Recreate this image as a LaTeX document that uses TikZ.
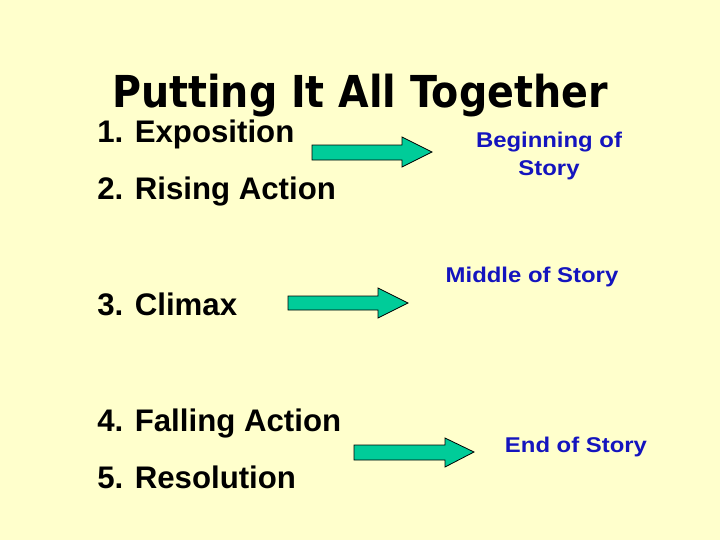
\documentclass[tikz,border=0pt]{standalone}
\usepackage{fontspec}
\setmainfont{Liberation Sans}
\newfontfamily\titlefont[FakeStretch=0.9]{DejaVu Sans}
\newfontfamily\partfont[FakeStretch=1.12]{Liberation Sans}
\definecolor{bgyellow}{RGB}{255,255,204}
\definecolor{arrowgreen}{RGB}{0,204,153}
\definecolor{storyblue}{RGB}{20,20,190}
\tikzset{
  px/.style={x=0.75pt,y=-0.75pt},
  blockarrow/.style={fill=arrowgreen,draw=black,line width=0.6pt,line join=miter},
  item/.style={anchor=base west,inner sep=0pt,font=\bfseries\fontsize{23.4pt}{26pt}\selectfont},
  part/.style={anchor=base,inner sep=0pt,text=storyblue,align=center,font=\partfont\bfseries\fontsize{16pt}{21pt}\selectfont},
}
\begin{document}
\begin{tikzpicture}[px]
\fill[bgyellow] (0,0) rectangle (720,540);
\useasboundingbox (0,0) rectangle (720,540);
\node[inner sep=0pt,anchor=base] (title) at (360,107) {\titlefont\bfseries\fontsize{33pt}{36pt}\selectfont Putting It All Together};
\node[item] (i1) at (97,142) {1. Exposition};
\node[item] (i2) at (97,199) {2. Rising Action};
\node[item] (i3) at (97,315) {3. Climax};
\node[item] (i4) at (97,431) {4. Falling Action};
\node[item] (i5) at (97,488) {5. Resolution};
\node[part] (p1) at (549,175) {Beginning of\\Story};
\node[part] (p2) at (532,282) {Middle of Story};
\node[part] (p3) at (576,452) {End of Story};
\filldraw[blockarrow] (312,145) -- (402,145) -- (402,137) -- (432,152) -- (402,167) -- (402,160) -- (312,160) -- cycle;
\filldraw[blockarrow] (288,296) -- (378,296) -- (378,288) -- (408,303) -- (378,318) -- (378,310) -- (288,310) -- cycle;
\filldraw[blockarrow] (354,445) -- (445,445) -- (445,438) -- (474,452) -- (445,467) -- (445,460) -- (354,460) -- cycle;
\end{tikzpicture}
\end{document}
